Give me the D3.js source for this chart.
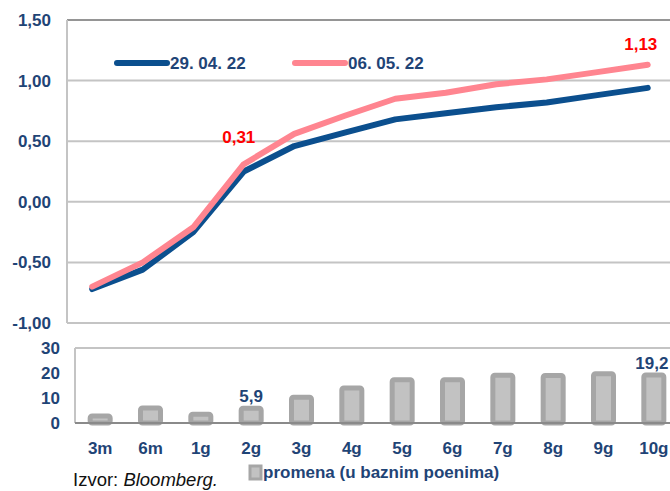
<!DOCTYPE html>
<html>
<head>
<meta charset="utf-8">
<script src="https://cdn.jsdelivr.net/npm/d3@7"></script>
<style>
  body { margin: 0; background: #fff; }
  svg { display: block; }
  text { font-family: "Liberation Sans", Arial, sans-serif; }
</style>
</head>
<body>
<svg width="670" height="491"></svg>
<script>
const categories = ["3m", "6m", "1g", "2g", "3g", "4g", "5g", "6g", "7g", "8g", "9g", "10g"];
const seriesApr29 = [-0.72, -0.56, -0.25, 0.25, 0.46, 0.57, 0.68, 0.73, 0.78, 0.82, 0.88, 0.94];
const seriesMay06 = [-0.70, -0.50, -0.21, 0.31, 0.56, 0.71, 0.85, 0.90, 0.97, 1.01, 1.07, 1.13];
const changeBp = [2.8, 6.0, 3.5, 5.9, 10.3, 14.0, 17.3, 17.3, 19.1, 19.0, 19.7, 19.2];
const yTicksTop = [-1.0, -0.5, 0, 0.5, 1.0, 1.5];
const yTicksBottom = [0, 10, 20, 30];
const legendLabels = ["29. 04. 22", "06. 05. 22"];

const blue = "#0b4f8e", pink = "#ff8590", labelBlue = "#1f4476";
const fs = 17;
const fmt = v => d3.format(".2f")(v).replace(".", ",").replace("\u2212", "-");

const svg = d3.select("svg");

// top panel: yield curves
const topBox = { left: 67, right: 673, top: 20, bottom: 323 };
const x1 = d3.scalePoint().domain(categories).range([topBox.left, topBox.right]).padding(0.5);
const y1 = d3.scaleLinear().domain([-1, 1.5]).range([topBox.bottom, topBox.top]);

const gTop = svg.append("g");
gTop.selectAll("line.grid")
  .data(yTicksTop.slice(1, -1))
  .enter().append("line")
  .attr("x1", topBox.left).attr("x2", 670)
  .attr("y1", d => y1(d)).attr("y2", d => y1(d))
  .attr("stroke", "#c4c4c4").attr("stroke-width", 2);
gTop.append("line")
  .attr("x1", topBox.left).attr("x2", 670)
  .attr("y1", y1(-1)).attr("y2", y1(-1))
  .attr("stroke", "#c4c4c4").attr("stroke-width", 2);
gTop.append("line")
  .attr("x1", topBox.left).attr("x2", 670)
  .attr("y1", y1(1.5)).attr("y2", y1(1.5))
  .attr("stroke", "#959595").attr("stroke-width", 2);
gTop.append("line")
  .attr("x1", topBox.left).attr("x2", topBox.left)
  .attr("y1", y1(1.5)).attr("y2", y1(-1))
  .attr("stroke", "#c4c4c4").attr("stroke-width", 2);

gTop.append("g")
  .attr("transform", `translate(51,0)`)
  .call(d3.axisLeft(y1).tickValues(yTicksTop).tickFormat(fmt).tickSize(0).tickPadding(0))
  .call(g => g.select(".domain").remove())
  .selectAll("text")
  .attr("font-family", "Liberation Sans, Arial, sans-serif")
  .attr("font-size", fs).attr("font-weight", "bold").attr("fill", labelBlue);

const line = d3.line().x((d, i) => x1(categories[i])).y(d => y1(d));
gTop.append("path").datum(seriesApr29)
  .attr("d", line).attr("fill", "none").attr("stroke", blue)
  .attr("stroke-width", 6).attr("stroke-linecap", "round").attr("stroke-linejoin", "round");
gTop.append("path").datum(seriesMay06)
  .attr("d", line).attr("fill", "none").attr("stroke", pink)
  .attr("stroke-width", 6).attr("stroke-linecap", "round").attr("stroke-linejoin", "round");

// value labels
[3, 11].forEach(i => {
  gTop.append("text")
    .attr("x", x1(categories[i]) - (i === 3 ? 5 : 7))
    .attr("y", y1(seriesMay06[i]) - (i === 3 ? 21 : 15))
    .attr("text-anchor", "middle")
    .attr("font-size", fs).attr("font-weight", "bold").attr("fill", "#ff0000")
    .text(fmt(seriesMay06[i]));
});

// legend
const legend = gTop.selectAll("g.leg")
  .data(legendLabels)
  .enter().append("g")
  .attr("transform", (d, i) => `translate(${i === 0 ? 117 : 295},63)`);
legend.append("line")
  .attr("x1", 0).attr("x2", 50)
  .attr("stroke", (d, i) => i === 0 ? blue : pink)
  .attr("stroke-width", 6).attr("stroke-linecap", "round");
legend.append("text")
  .attr("x", 53).attr("dy", "0.36em")
  .attr("font-size", fs).attr("font-weight", "bold").attr("fill", labelBlue)
  .text(d => d);

// bottom panel: change in bp
const bot = { left: 75, right: 679, top: 348, bottom: 423 };
const x2 = d3.scaleBand().domain(categories).range([bot.left, bot.right]).paddingInner(0.5).paddingOuter(0.25);
const y2 = d3.scaleLinear().domain([0, 30]).range([bot.bottom, bot.top]);

const gBot = svg.append("g");
gBot.append("line")
  .attr("x1", bot.left).attr("x2", 670)
  .attr("y1", bot.top).attr("y2", bot.top)
  .attr("stroke", "#c4c4c4").attr("stroke-width", 2);
gBot.append("line")
  .attr("x1", bot.left).attr("x2", bot.left)
  .attr("y1", bot.top).attr("y2", bot.bottom)
  .attr("stroke", "#c4c4c4").attr("stroke-width", 2);

gBot.append("g")
  .attr("transform", `translate(60,0)`)
  .call(d3.axisLeft(y2).tickValues(yTicksBottom).tickSize(0).tickPadding(0))
  .call(g => g.select(".domain").remove())
  .selectAll("text")
  .attr("font-family", "Liberation Sans, Arial, sans-serif")
  .attr("font-size", fs).attr("font-weight", "bold").attr("fill", labelBlue);

const bw = 20;
gBot.selectAll("rect.bar")
  .data(changeBp)
  .enter().append("rect")
  .attr("x", (d, i) => x2(categories[i]) + x2.bandwidth() / 2 - bw / 2)
  .attr("y", d => y2(d))
  .attr("width", bw)
  .attr("height", d => y2(0) - y2(d))
  .attr("rx", 2)
  .attr("fill", "#c2c2c2").attr("stroke", "#a6a6a6").attr("stroke-width", 5);

gBot.append("line")
  .attr("x1", bot.left).attr("x2", 670)
  .attr("y1", bot.bottom).attr("y2", bot.bottom)
  .attr("stroke", "#8a8a8a").attr("stroke-width", 2);

gBot.append("g")
  .attr("transform", `translate(0,${bot.bottom})`)
  .call(d3.axisBottom(x2).tickSize(0).tickPadding(19))
  .call(g => g.select(".domain").remove())
  .selectAll("text")
  .attr("font-family", "Liberation Sans, Arial, sans-serif")
  .attr("font-size", fs).attr("font-weight", "bold").attr("fill", labelBlue);

[3, 11].forEach(i => {
  gBot.append("text")
    .attr("x", x2(categories[i]) + x2.bandwidth() / 2 + (i === 11 ? -2 : 0))
    .attr("y", y2(changeBp[i]) - 6)
    .attr("text-anchor", "middle")
    .attr("font-size", fs).attr("font-weight", "bold").attr("fill", labelBlue)
    .text(String(changeBp[i]).replace(".", ","));
});

// bar legend
svg.append("rect")
  .attr("x", 250).attr("y", 466).attr("width", 11).attr("height", 13)
  .attr("fill", "#c2c2c2").attr("stroke", "#a6a6a6").attr("stroke-width", 3);
svg.append("text")
  .attr("x", 263).attr("y", 478)
  .attr("font-size", fs).attr("font-weight", "bold").attr("fill", labelBlue)
  .text("promena (u baznim poenima)");

const src = svg.append("text")
  .attr("x", 73).attr("y", 486)
  .attr("font-family", "Open Sans, sans-serif")
  .attr("font-size", 18.5).attr("fill", "#111");
src.append("tspan").text("Izvor: ");
src.append("tspan").attr("font-style", "italic").text("Bloomberg.");
</script>
</body>
</html>
